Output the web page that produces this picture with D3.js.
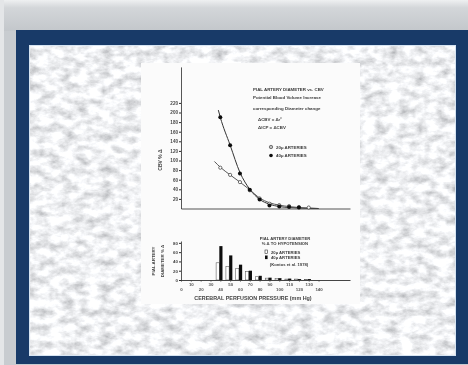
<!DOCTYPE html>
<html>
<head>
<meta charset="utf-8">
<script src="https://cdn.jsdelivr.net/npm/d3@7"></script>
<style>
  body { margin: 0; background: #c9cdd1; }
  svg { display: block; }
</style>
</head>
<body>
<div id="root"></div>
<script>
// Define width and height
let width = 468, height = 365;

// Tick labels
const pressureTicks = [0, 10, 20, 30, 40, 50, 60, 70, 80, 90, 100, 110, 120, 130, 140];
const cbvTicks = [20, 40, 60, 80, 100, 120, 140, 160, 180, 200, 220];
const diamTicks = [0, 20, 40, 60, 80];

// Upper panel: CBV % change vs perfusion pressure
const pts40 = [[40, 190], [50, 132], [60, 73], [70, 39], [80, 19], [90, 6], [100, 4], [110, 3], [120, 2]];
const pts20 = [[40, 85], [50, 70], [60, 55], [70, 38], [80, 21], [90, 10], [100, 7], [110, 5], [120, 3], [130, 2]];
const curve40 = [[38, 205], [40, 190], [50, 132], [60, 75], [70, 40], [80, 19], [90, 9], [100, 4], [110, 2], [120, 1], [140, 0]];
const curve20 = [[34, 98], [40, 86], [50, 70], [60, 55], [70, 39], [80, 22], [90, 12], [100, 7], [110, 4], [120, 2], [140, 0]];

// Lower panel: pial artery diameter % change
const barPressures = [40, 50, 60, 70, 80, 90, 100, 110, 120, 130];
const bars20 = [37, 29, 25, 18, 7, 4, 3, 2, 2, 1];
const bars40 = [73, 53, 33, 20, 9, 5, 4, 3, 2, 2];

// Texts
const noteUpper = ['PIAL ARTERY DIAMETER vs. CBV', 'Potential Blood Volume Increase', 'corresponding Diameter change'];
const formulas = ['\u0394CBV = \u0394r\u00b2', '\u0394ICP = \u0394CBV'];
const noteLower = ['PIAL ARTERY DIAMETER', '% \u0394 TO HYPOTENSION'];
const seriesNames = ['20\u00b5 ARTERIES', '40\u00b5 ARTERIES'];
const sourceNote = '(Kontos et al. 1978)';
const xTitle = 'CEREBRAL PERFUSION PRESSURE (mm Hg)';

var svg = d3.select('#root')
  .append('svg')
  .attr('width', width)
  .attr('height', height);

var defs = svg.append('defs');

// marble texture
var marble = defs.append('filter').attr('id', 'marble')
  .attr('x', 0).attr('y', 0).attr('width', 1).attr('height', 1);
marble.append('feTurbulence')
  .attr('type', 'fractalNoise')
  .attr('baseFrequency', '0.08 0.12')
  .attr('numOctaves', 4)
  .attr('seed', 11);
marble.append('feColorMatrix')
  .attr('type', 'matrix')
  .attr('values', '0.95 0 0 0 0.39  0.95 0 0 0 0.4  0.95 0 0 0 0.42  0 0 0 0 1');

var soft = defs.append('filter').attr('id', 'soft');
soft.append('feGaussianBlur').attr('stdDeviation', 0.35);

var topGrad = defs.append('linearGradient').attr('id', 'topGrad')
  .attr('x1', 0).attr('y1', 0).attr('x2', 0).attr('y2', 1);
topGrad.append('stop').attr('offset', 0).attr('stop-color', '#eef0f1');
topGrad.append('stop').attr('offset', 0.25).attr('stop-color', '#d3d6d9');
topGrad.append('stop').attr('offset', 1).attr('stop-color', '#c3c7cb');

// background / slide frame
svg.append('rect').attr('width', width).attr('height', height).attr('fill', '#c8ccd0');
svg.append('rect').attr('width', width).attr('height', 31).attr('fill', 'url(#topGrad)');
svg.append('rect').attr('x', 0).attr('y', 0).attr('width', 4).attr('height', height).attr('fill', '#e4e6e8');
svg.append('rect').attr('x', 16).attr('y', 30).attr('width', 452).attr('height', 334).attr('fill', '#183a68');
svg.append('rect').attr('x', 29).attr('y', 45).attr('width', 427).attr('height', 311)
  .attr('fill', '#dcdee0').attr('filter', 'url(#marble)');
svg.append('rect').attr('x', 29.5).attr('y', 45.5).attr('width', 426).attr('height', 310)
  .attr('fill', 'none').attr('stroke', '#d6e4f2').attr('stroke-width', 1);

// white panel holding the figure
svg.append('rect').attr('x', 141).attr('y', 63).attr('width', 219).attr('height', 241).attr('fill', '#fbfbfb');

var fig = svg.append('g').attr('filter', 'url(#soft)')
  .style('font-family', '"Liberation Sans", Arial, sans-serif')
  .style('font-weight', 'bold');

// scales
var xScale = d3.scaleLinear().domain([0, 172]).range([181, 350]);
var yTop = d3.scaleLinear().domain([0, 295]).range([208.5, 66.9]);
var yBot = d3.scaleLinear().domain([0, 84]).range([280, 241]);

var ink = '#2a2a2a';

// upper axes
fig.append('g')
  .attr('transform', 'translate(0,' + yTop(0) + ')')
  .call(d3.axisBottom(xScale).tickValues([]).tickSizeOuter(0))
  .call(g => g.select('.domain').attr('stroke', '#555').attr('stroke-width', 1));

var yAxisTop = fig.append('g')
  .attr('transform', 'translate(' + xScale(0) + ',0)')
  .call(d3.axisLeft(yTop).tickValues(cbvTicks).tickSize(2).tickPadding(1).tickSizeOuter(0));
yAxisTop.select('.domain').attr('stroke', ink).attr('stroke-width', 0.8);
yAxisTop.selectAll('.tick line').attr('stroke', ink);
yAxisTop.selectAll('text').attr('font-size', 4.6).attr('fill', '#444').attr('font-family', null);

fig.append('text')
  .attr('transform', 'translate(162,160) rotate(-90)')
  .attr('text-anchor', 'middle')
  .attr('font-size', 5).attr('fill', '#444')
  .text('CBV % \u0394');

// curves
var line = d3.line()
  .x(d => xScale(d[0]))
  .y(d => yTop(d[1]))
  .curve(d3.curveMonotoneX);

fig.append('path').datum(curve40)
  .attr('d', line).attr('fill', 'none').attr('stroke', '#333').attr('stroke-width', 1);
fig.append('path').datum(curve20)
  .attr('d', line).attr('fill', 'none').attr('stroke', '#444').attr('stroke-width', 0.9);

fig.append('g').selectAll('circle')
  .data(pts20).enter().append('circle')
  .attr('cx', d => xScale(d[0]))
  .attr('cy', d => yTop(d[1]))
  .attr('r', 1.6)
  .attr('fill', '#fff').attr('stroke', '#333').attr('stroke-width', 0.7);

fig.append('g').selectAll('circle')
  .data(pts40).enter().append('circle')
  .attr('cx', d => xScale(d[0]))
  .attr('cy', d => yTop(d[1]))
  .attr('r', 2)
  .attr('fill', '#111');

// upper notes
var noteUp = fig.append('g').attr('fill', '#3a3a3a').attr('font-size', 4.4);
noteUp.selectAll('text.n')
  .data(noteUpper).enter().append('text').attr('class', 'n')
  .attr('x', 253)
  .attr('y', (d, i) => [91, 99, 110][i])
  .text(d => d);
noteUp.selectAll('text.f')
  .data(formulas).enter().append('text').attr('class', 'f')
  .attr('x', 258)
  .attr('y', (d, i) => [121, 129][i])
  .text(d => d);

// upper legend
var legUp = fig.append('g').attr('fill', '#3a3a3a').attr('font-size', 4.4);
legUp.append('circle').attr('cx', 271).attr('cy', 147).attr('r', 1.7)
  .attr('fill', '#bbb').attr('stroke', '#333').attr('stroke-width', 0.6);
legUp.append('circle').attr('cx', 271).attr('cy', 155.5).attr('r', 1.8).attr('fill', '#111');
legUp.selectAll('text')
  .data(seriesNames).enter().append('text')
  .attr('x', 276)
  .attr('y', (d, i) => [148.6, 157.2][i])
  .text(d => d);

// lower axes
var xAxisBot = fig.append('g')
  .attr('transform', 'translate(0,' + yBot(0) + ')')
  .call(d3.axisBottom(xScale).tickValues(pressureTicks).tickSize(1.5).tickSizeOuter(0));
xAxisBot.select('.domain').attr('stroke', '#444').attr('stroke-width', 1);
xAxisBot.selectAll('.tick line').attr('stroke', '#444');
xAxisBot.selectAll('text')
  .attr('font-size', 4.4).attr('fill', '#555').attr('font-family', null)
  .attr('dy', null)
  .attr('y', (d, i) => i % 2 === 0 ? 10.5 : 5.5);

var yAxisBot = fig.append('g')
  .attr('transform', 'translate(' + xScale(0) + ',0)')
  .call(d3.axisLeft(yBot).tickValues(diamTicks).tickSize(2).tickPadding(1).tickSizeOuter(0));
yAxisBot.select('.domain').attr('stroke', ink).attr('stroke-width', 0.8);
yAxisBot.selectAll('.tick line').attr('stroke', ink);
yAxisBot.selectAll('text').attr('font-size', 4.4).attr('fill', '#444').attr('font-family', null);

fig.append('text')
  .attr('transform', 'translate(155,261) rotate(-90)')
  .attr('text-anchor', 'middle')
  .attr('font-size', 4.4).attr('fill', '#444')
  .text('PIAL ARTERY');
fig.append('text')
  .attr('transform', 'translate(164,261) rotate(-90)')
  .attr('text-anchor', 'middle')
  .attr('font-size', 4.4).attr('fill', '#444')
  .text('DIAMETER % \u0394');

// bars
var barW = 3.2;
fig.append('g').selectAll('rect')
  .data(barPressures).enter().append('rect')
  .attr('x', d => xScale(d) - 4.2)
  .attr('y', (d, i) => yBot(bars20[i]))
  .attr('width', barW)
  .attr('height', (d, i) => yBot(0) - yBot(bars20[i]))
  .attr('fill', '#fff').attr('stroke', '#444').attr('stroke-width', 0.5);

fig.append('g').selectAll('rect')
  .data(barPressures).enter().append('rect')
  .attr('x', d => xScale(d) - 1)
  .attr('y', (d, i) => yBot(bars40[i]))
  .attr('width', barW)
  .attr('height', (d, i) => yBot(0) - yBot(bars40[i]))
  .attr('fill', '#111');

// lower notes and legend
var noteLo = fig.append('g').attr('fill', '#3a3a3a').attr('font-size', 4.2).attr('text-anchor', 'middle');
noteLo.selectAll('text.n')
  .data(noteLower).enter().append('text').attr('class', 'n')
  .attr('x', 285)
  .attr('y', (d, i) => [239.5, 245][i])
  .text(d => d);
noteLo.append('text').attr('x', 289).attr('y', 265.5).text(sourceNote);

fig.append('rect').attr('x', 265).attr('y', 250).attr('width', 2.6).attr('height', 3.6)
  .attr('fill', '#fff').attr('stroke', '#333').attr('stroke-width', 0.6);
fig.append('rect').attr('x', 265).attr('y', 255.5).attr('width', 2.6).attr('height', 3.6)
  .attr('fill', '#111');
fig.append('g').attr('fill', '#3a3a3a').attr('font-size', 4.2)
  .selectAll('text')
  .data(seriesNames).enter().append('text')
  .attr('x', 271)
  .attr('y', (d, i) => [253.5, 259][i])
  .text(d => d);

// x axis title
fig.append('text')
  .attr('x', 253).attr('y', 300)
  .attr('text-anchor', 'middle')
  .attr('font-size', 5.4).attr('fill', '#444')
  .text(xTitle);
</script>
</body>
</html>
